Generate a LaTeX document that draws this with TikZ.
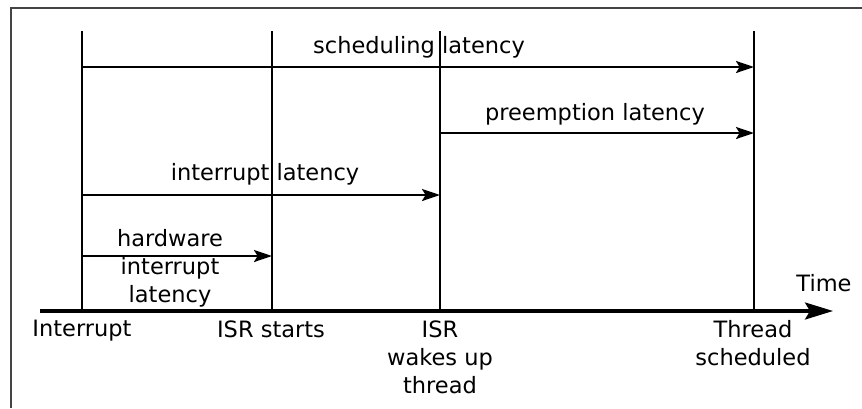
\documentclass[tikz,border=0pt]{standalone}
\usepackage{fontspec}
\setmainfont{DejaVu Sans}
\usepackage{tikz}
\usetikzlibrary{arrows.meta, positioning, calc}
\definecolor{marco}{RGB}{68, 68, 68}

\begin{document}
\begin{tikzpicture}[
    x=0.5pt, y=-0.5pt,
    lbl/.style={inner sep=0pt, align=center, font=\fontsize{11.25}{14}\selectfont},
    tick/.style={line width=1.15pt},
    lat/.style={-{Stealth[length=9pt, width=6pt, inset=1.8pt]}, line width=1.15pt},
    axis/.style={-{Stealth[length=14pt, width=8.5pt, inset=2.5pt]}, line width=1.6pt}
]
\useasboundingbox (0,0) rectangle (862,408);
\draw[marco, line width=1pt] (862,8) -- (11,8) -- (11,408);

% events on the time axis
\coordinate (irq) at (82,311);
\coordinate (isr) at (272,311);
\coordinate (wake) at (440,311);
\coordinate (sched) at (754,311);
\coordinate (top) at (0,31);

\coordinate (axstart) at (40,311);
\coordinate (axend) at (833,311);
\draw[axis] (axstart) -- (axend);
\node[lbl, anchor=base] (time) at (824,291) {Time};

\foreach \ev in {irq, isr, wake, sched}
  \draw[tick] (\ev |- top) -- (\ev);

\node[lbl, anchor=north] (irqlbl) at (82,320) {Interrupt};
\node[lbl, anchor=north] (isrlbl) at (271,320) {ISR starts};
\node[lbl, anchor=north] (wakelbl) at (440,320) {ISR\\wakes up\\thread};
\node[lbl, anchor=north] (schedlbl) at (753,320) {Thread\\scheduled};

% latencies
\coordinate (schY) at (0,67);
\coordinate (preY) at (0,133);
\coordinate (intY) at (0,195);
\coordinate (hwY) at (0,256);

\draw[lat] (irq |- schY) -- (sched |- schY);
\draw[lat] (wake |- preY) -- (sched |- preY);
\draw[lat] (irq |- intY) -- (wake |- intY);
\draw[lat] (irq |- hwY) -- (isr |- hwY);

\node[lbl, anchor=base] (schlbl) at (419,53) {scheduling latency};
\node[lbl, anchor=base] (prelbl) at (595,120) {preemption latency};
\node[lbl, anchor=base] (intlbl) at (265,180) {interrupt latency};
\node[lbl] (hwlbl) at (170,268) {hardware\\interrupt\\latency};
\end{tikzpicture}
\end{document}
